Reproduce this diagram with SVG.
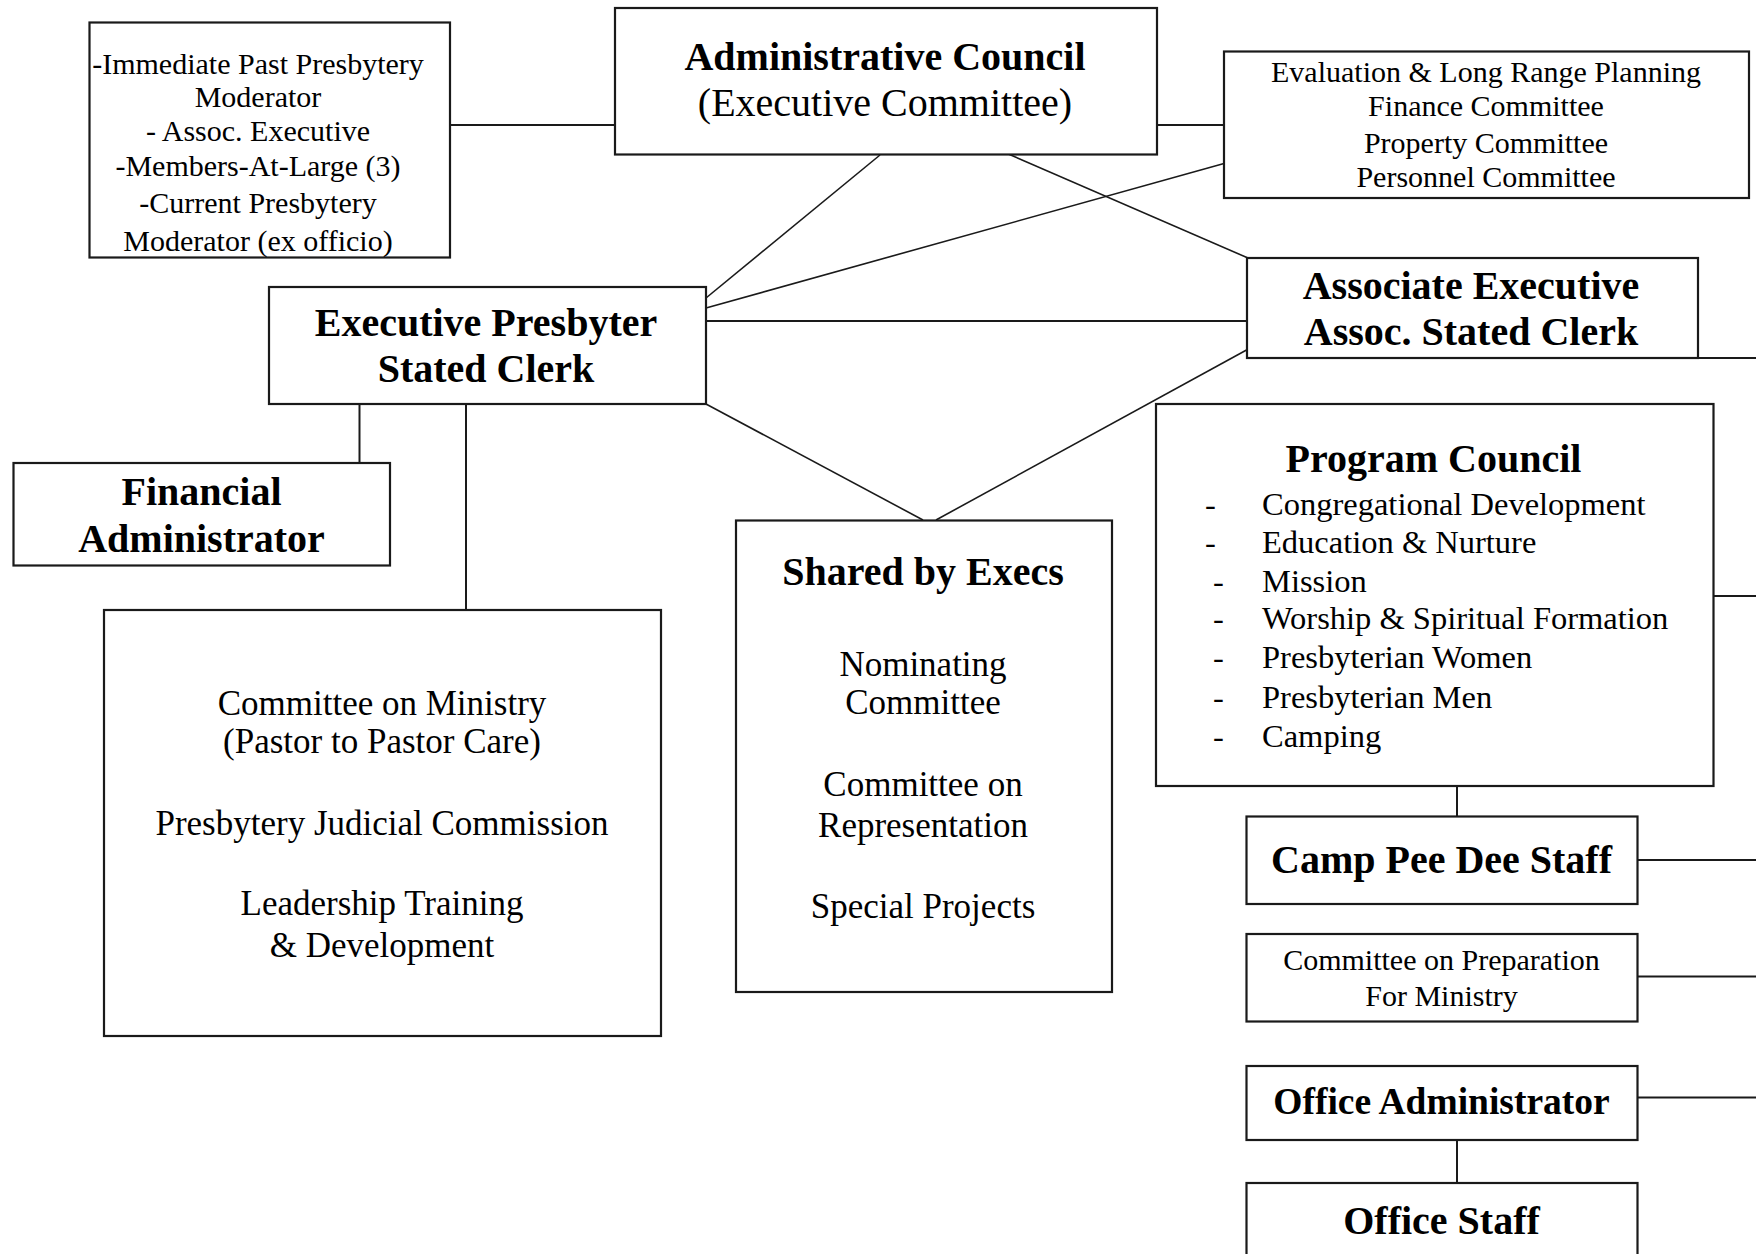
<svg xmlns="http://www.w3.org/2000/svg" width="1756" height="1254" viewBox="0 0 1756 1254">
  <style>
    .box { fill: #fff; stroke: #1a1a1a; stroke-width: 2.2; }
    .link { fill: none; stroke: #1a1a1a; stroke-width: 2; }
    .diag { fill: none; stroke: #1a1a1a; stroke-width: 1.6; }
    text { font-family: "Liberation Serif", "Times New Roman", serif; fill: #000; }
    .c { text-anchor: middle; }
    .b40 { font-size: 40px; font-weight: bold; }
    .r40 { font-size: 40px; }
    .r35 { font-size: 35px; }
    .r32 { font-size: 32.5px; }
    .r30 { font-size: 30px; }
  </style>
  <rect width="1756" height="1254" fill="#fff"/>

  <!-- connectors -->
  <g id="connectors">
    <line class="link" x1="450" y1="125" x2="615" y2="125"/>
    <line class="link" x1="1157" y1="125" x2="1224" y2="125"/>
    <line class="diag" x1="880" y1="155" x2="706" y2="298"/>
    <line class="diag" x1="1224" y1="163.5" x2="706" y2="308"/>
    <line class="diag" x1="1006" y1="153" x2="1248" y2="258"/>
    <line class="link" x1="706" y1="321" x2="1247" y2="321"/>
    <line class="diag" x1="706" y1="404" x2="923" y2="520"/>
    <line class="diag" x1="1252" y1="347" x2="936" y2="520"/>
    <line class="link" x1="1698" y1="358" x2="1756" y2="358"/>
    <line class="link" x1="359.5" y1="404" x2="359.5" y2="463"/>
    <line class="link" x1="466" y1="404" x2="466" y2="610"/>
    <line class="link" x1="1714" y1="596" x2="1756" y2="596"/>
    <line class="link" x1="1457" y1="786" x2="1457" y2="816.5"/>
    <line class="link" x1="1637" y1="860" x2="1756" y2="860"/>
    <line class="link" x1="1637" y1="976.5" x2="1756" y2="976.5"/>
    <line class="link" x1="1637" y1="1097.5" x2="1756" y2="1097.5"/>
    <line class="link" x1="1457" y1="1140" x2="1457" y2="1183"/>
  </g>

  <!-- council membership list -->
  <g id="council-members">
    <rect class="box" x="89.5" y="22.5" width="360.5" height="235"/>
    <text class="c r30" x="258" y="74">-Immediate Past Presbytery</text>
    <text class="c r30" x="258" y="107">Moderator</text>
    <text class="c r30" x="258" y="141">- Assoc. Executive</text>
    <text class="c r30" x="258" y="176">-Members-At-Large (3)</text>
    <text class="c r30" x="258" y="213">-Current Presbytery</text>
    <text class="c r30" x="258" y="251">Moderator (ex officio)</text>
  </g>

  <g id="administrative-council">
    <rect class="box" x="615" y="8" width="542" height="146.5"/>
    <text class="c b40" x="885" y="70">Administrative Council</text>
    <text class="c r40" x="885" y="116">(Executive Committee)</text>
  </g>

  <g id="standing-committees">
    <rect class="box" x="1224" y="51.5" width="525" height="146.5"/>
    <text class="c r30" x="1486" y="82">Evaluation &amp; Long Range Planning</text>
    <text class="c r30" x="1486" y="116">Finance Committee</text>
    <text class="c r30" x="1486" y="153">Property Committee</text>
    <text class="c r30" x="1486" y="187">Personnel Committee</text>
  </g>

  <g id="executive-presbyter">
    <rect class="box" x="269" y="287" width="437" height="117"/>
    <text class="c b40" x="486" y="336">Executive Presbyter</text>
    <text class="c b40" x="486" y="382">Stated Clerk</text>
  </g>

  <g id="associate-executive">
    <rect class="box" x="1247" y="258" width="451" height="100"/>
    <text class="c b40" x="1471" y="299">Associate Executive</text>
    <text class="c b40" x="1471" y="345">Assoc. Stated Clerk</text>
  </g>

  <g id="financial-administrator">
    <rect class="box" x="13.5" y="463" width="376.5" height="102.5"/>
    <text class="c b40" x="201.5" y="505">Financial</text>
    <text class="c b40" x="201.5" y="552">Administrator</text>
  </g>

  <g id="ministry-committees">
    <rect class="box" x="104" y="610" width="557" height="426"/>
    <text class="c r35" x="382" y="714.5">Committee on Ministry</text>
    <text class="c r35" x="382" y="753">(Pastor to Pastor Care)</text>
    <text class="c r35" x="382" y="834.5">Presbytery Judicial Commission</text>
    <text class="c r35" x="382" y="914.5">Leadership Training</text>
    <text class="c r35" x="382" y="956.5">&amp; Development</text>
  </g>

  <g id="shared-by-execs">
    <rect class="box" x="736" y="520.5" width="376" height="471.5"/>
    <text class="c b40" x="923" y="585">Shared by Execs</text>
    <text class="c r35" x="923" y="675.5">Nominating</text>
    <text class="c r35" x="923" y="713.5">Committee</text>
    <text class="c r35" x="923" y="795.5">Committee on</text>
    <text class="c r35" x="923" y="837">Representation</text>
    <text class="c r35" x="923" y="917.5">Special Projects</text>
  </g>

  <g id="program-council">
    <rect class="box" x="1156" y="404" width="557.5" height="382"/>
    <text class="c b40" x="1433.5" y="472">Program Council</text>
    <text class="r32" x="1205" y="515">-</text>
    <text class="r32" x="1262" y="515">Congregational Development</text>
    <text class="r32" x="1205" y="553">-</text>
    <text class="r32" x="1262" y="553">Education &amp; Nurture</text>
    <text class="r32" x="1213" y="592">-</text>
    <text class="r32" x="1262" y="592">Mission</text>
    <text class="r32" x="1213" y="629">-</text>
    <text class="r32" x="1262" y="629">Worship &amp; Spiritual Formation</text>
    <text class="r32" x="1213" y="668">-</text>
    <text class="r32" x="1262" y="668">Presbyterian Women</text>
    <text class="r32" x="1213" y="707.5">-</text>
    <text class="r32" x="1262" y="707.5">Presbyterian Men</text>
    <text class="r32" x="1213" y="747">-</text>
    <text class="r32" x="1262" y="747">Camping</text>
  </g>

  <g id="camp-pee-dee-staff">
    <rect class="box" x="1246.5" y="816.5" width="391" height="87.5"/>
    <text class="c b40" x="1441.5" y="873">Camp Pee Dee Staff</text>
  </g>

  <g id="preparation-for-ministry">
    <rect class="box" x="1246.5" y="934" width="391" height="87.5"/>
    <text class="c r30" x="1441.5" y="970">Committee on Preparation</text>
    <text class="c r30" x="1441.5" y="1005.5">For Ministry</text>
  </g>

  <g id="office-administrator">
    <rect class="box" x="1246.5" y="1066" width="391" height="74"/>
    <text class="c b40" x="1441.5" y="1114" style="font-size:37.5px">Office Administrator</text>
  </g>

  <g id="office-staff">
    <rect class="box" x="1246.5" y="1183" width="391" height="90"/>
    <text class="c b40" x="1441.5" y="1234">Office Staff</text>
  </g>
</svg>
